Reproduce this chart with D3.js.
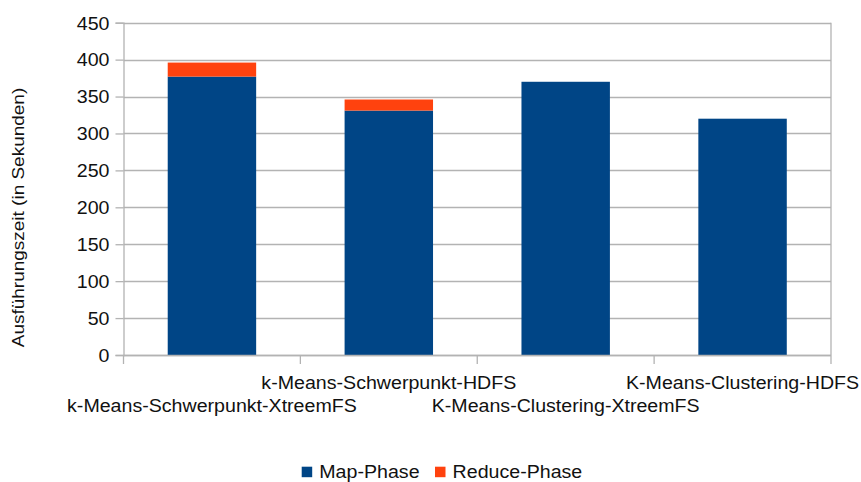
<!DOCTYPE html>
<html>
<head>
<meta charset="utf-8">
<script src="https://cdn.jsdelivr.net/npm/d3@7"></script>
<style>
  html, body { margin: 0; padding: 0; background: #fff; }
  svg { display: block; }
  text { font-family: "Liberation Sans", Arial, sans-serif; fill: #111; }
</style>
</head>
<body>
<svg id="chart" width="861" height="482"></svg>
<script>
// Run times per job variant, in seconds
const categories = [
  "k-Means-Schwerpunkt-XtreemFS",
  "k-Means-Schwerpunkt-HDFS",
  "K-Means-Clustering-XtreemFS",
  "K-Means-Clustering-HDFS"
];
const mapPhase = [377, 331, 370, 320];
const reducePhase = [19, 15, 0, 0];
const seriesNames = ["Map-Phase", "Reduce-Phase"];
const yTicks = [0, 50, 100, 150, 200, 250, 300, 350, 400, 450];
const yTitle = "Ausführungszeit (in Sekunden)";

const colors = ["#004586", "#ff420e"];
const gridColor = "#b3b3b3";
const stretch = 1.12; // horizontal widening of the lettering

const svg = d3.select("#chart");
const plot = { left: 123.5, right: 831, top: 22.7, bottom: 355 };

const x = d3.scaleBand()
  .domain(categories)
  .range([plot.left, plot.right])
  .paddingInner(0.5)
  .paddingOuter(0.25);

const y = d3.scaleLinear().domain([0, 450]).range([plot.bottom, plot.top]);

// widen a text element's glyphs by a factor
function widen(sel, factor = stretch) {
  sel.each(function () {
    const w = this.getComputedTextLength();
    d3.select(this).attr("textLength", w * factor).attr("lengthAdjust", "spacingAndGlyphs");
  });
}

// horizontal grid lines
svg.append("g")
  .selectAll("line")
  .data(yTicks)
  .join("line")
  .attr("x1", plot.left).attr("x2", plot.right)
  .attr("y1", d => Math.round(y(d)) + 0.5).attr("y2", d => Math.round(y(d)) + 0.5)
  .attr("stroke", gridColor).attr("stroke-width", 1.3);

// right frame edge
svg.append("line")
  .attr("x1", plot.right).attr("x2", plot.right)
  .attr("y1", y(450)).attr("y2", y(0))
  .attr("stroke", gridColor).attr("stroke-width", 1.3);

// stacked bars
const stacked = categories.map((c, i) => ({ cat: c, vals: [mapPhase[i], reducePhase[i]] }));
stacked.forEach(d => {
  let base = 0;
  d.vals.forEach((v, s) => {
    if (v > 0) {
      svg.append("rect")
        .attr("x", x(d.cat))
        .attr("width", x.bandwidth())
        .attr("y", y(base + v))
        .attr("height", y(base) - y(base + v))
        .attr("fill", colors[s]);
    }
    base += v;
  });
});

// y axis
const yAxis = svg.append("g")
  .attr("transform", `translate(${plot.left},0)`)
  .call(d3.axisLeft(y).tickValues(yTicks).tickSize(8).tickPadding(6).tickFormat(d3.format("d")));
yAxis.select(".domain").attr("stroke", gridColor).attr("stroke-width", 1.3);
yAxis.selectAll(".tick line").attr("stroke", gridColor).attr("stroke-width", 1.3);
yAxis.selectAll(".tick text")
  .attr("font-size", 17.5)
  .attr("dy", "0.36em")
  .style("font-family", '"Liberation Sans", Arial, sans-serif')
  .attr("fill", "#111")
  .call(widen);

// x axis line and boundary ticks
svg.append("line")
  .attr("x1", plot.left).attr("x2", plot.right)
  .attr("y1", plot.bottom + 0.5).attr("y2", plot.bottom + 0.5)
  .attr("stroke", gridColor).attr("stroke-width", 1.3);
const bounds = categories.map(c => x(c) - x.step() * x.paddingInner() / 2)
  .concat([plot.right]);
svg.append("g")
  .selectAll("line")
  .data(bounds)
  .join("line")
  .attr("x1", d => d).attr("x2", d => d)
  .attr("y1", plot.bottom).attr("y2", plot.bottom + 9)
  .attr("stroke", gridColor).attr("stroke-width", 1.3);

// staggered category labels
svg.append("g")
  .selectAll("text")
  .data(categories)
  .join("text")
  .attr("x", d => x(d) + x.bandwidth() / 2)
  .attr("y", (d, i) => i % 2 === 1 ? 389 : 411.5)
  .attr("text-anchor", "middle")
  .attr("font-size", 17.5)
  .text(d => d)
  .call(widen);

// y axis title
svg.append("text")
  .attr("transform", "translate(23.5,217.5) rotate(-90)")
  .attr("text-anchor", "middle")
  .attr("font-size", 16.5)
  .text(yTitle)
  .call(widen, 1.15);

// legend
const legend = svg.append("g");
const legendX = [301.7, 435];
seriesNames.forEach((name, i) => {
  legend.append("rect")
    .attr("x", legendX[i]).attr("y", 466.7)
    .attr("width", 10.5).attr("height", 10.5)
    .attr("fill", colors[i]);
  legend.append("text")
    .attr("x", legendX[i] + 17.6).attr("y", 477.5)
    .attr("font-size", 17.5)
    .text(name)
    .call(widen);
});
</script>
</body>
</html>
